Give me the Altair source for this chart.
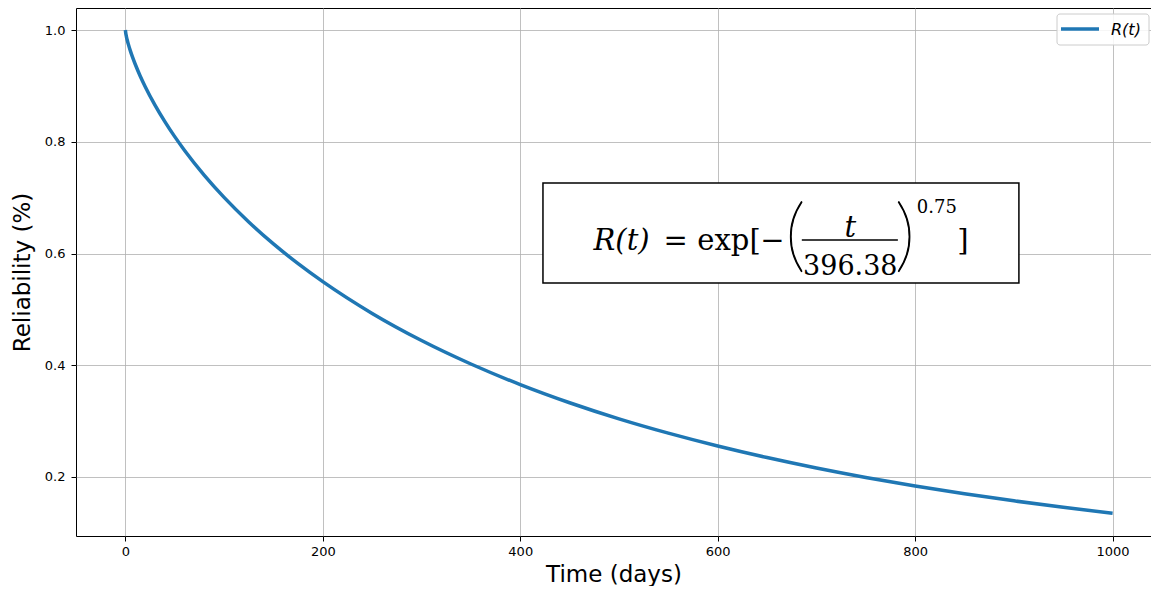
import altair as alt
import pandas as pd

# ---- data ----
t_days = [0, 0.5, 1, 2, 3, 5, 7, 10, 15, 20, 30, 40, 50, 60, 80, 100, 125, 150,
          175, 200, 250, 300, 350, 400, 450, 500, 550, 600, 650, 700, 750, 800,
          850, 900, 950, 1000]
reliability = [1.0, 0.9933, 0.9888, 0.9812, 0.9747, 0.9631, 0.9527, 0.9387,
               0.9178, 0.8990, 0.8656, 0.8361, 0.8092, 0.7845, 0.7400, 0.7005,
               0.6565, 0.6172, 0.5818, 0.5496, 0.4927, 0.4442, 0.4022, 0.3654,
               0.3329, 0.3041, 0.2785, 0.2555, 0.2348, 0.2161, 0.1992, 0.1839,
               0.1700, 0.1573, 0.1457, 0.1351]
x_ticks = [0, 200, 400, 600, 800, 1000]
y_ticks = [0.2, 0.4, 0.6, 0.8, 1.0]
series_name = "R(t)"

curve = pd.DataFrame({"t": t_days, "R": reliability})

x_scale = alt.Scale(domain=[-50, 1038.9], nice=False, zero=False)
y_scale = alt.Scale(domain=[0.0944, 1.0394], nice=False, zero=False)

line = alt.Chart(curve).mark_line(
    color="#1f77b4", strokeWidth=3.5, interpolate="monotone", strokeCap="butt"
).encode(
    x=alt.X("t:Q", scale=x_scale,
            axis=alt.Axis(values=x_ticks, format="d", title="Time (days)",
                          labelPadding=4, titlePadding=5)),
    y=alt.Y("R:Q", scale=y_scale,
            axis=alt.Axis(values=y_ticks, format=".1f", title="Reliability (%)",
                          labelPadding=6, titlePadding=10)),
)

# ---- equation annotation (data coordinates) ----
box = alt.Chart(pd.DataFrame({"t": [423.0], "t2": [905.1], "R": [0.7262], "R2": [0.5472]})).mark_rect(
    fill="white", stroke="black", strokeWidth=1.5
).encode(x="t:Q", x2="t2:Q", y="R:Q", y2="R2:Q")

serif = "DejaVu Serif"
eq_italic = pd.DataFrame({
    "t": [502.6, 734.3],
    "R": [0.6063, 0.6295],
    "txt": ["R(t)", "t"],
})
eq_main = pd.DataFrame({
    "t": [557.5, 611.5, 655.5, 848.3],
    "R": [0.6063, 0.6063, 0.6063, 0.6063],
    "txt": ["=", "exp[", "\u2212", "]"],
})
eq_den = pd.DataFrame({"t": [734.3], "R": [0.5615], "txt": ["396.38"]})
eq_parens = pd.DataFrame({
    "t": [678.6, 789.8],
    "R": [0.5848, 0.5848],
    "txt": ["(", ")"],
})
eq_sup = pd.DataFrame({"t": [822.0], "R": [0.6725], "txt": ["0.75"]})

t_italic = alt.Chart(eq_italic).mark_text(
    font=serif, fontSize=29, fontStyle="italic", align="center", baseline="alphabetic", color="black"
).encode(x="t:Q", y="R:Q", text="txt:N")
t_main = alt.Chart(eq_main).mark_text(
    font=serif, fontSize=29, align="center", baseline="alphabetic", color="black"
).encode(x="t:Q", y="R:Q", text="txt:N")
t_den = alt.Chart(eq_den).mark_text(
    font=serif, fontSize=27, align="center", baseline="alphabetic", color="black"
).encode(x="t:Q", y="R:Q", text="txt:N")
t_parens = alt.Chart(eq_parens).mark_text(
    font="Lato", fontSize=80, fontWeight=200, align="center", baseline="alphabetic",
    color="black", stroke="black", strokeWidth=1
).encode(x="t:Q", y="R:Q", text="txt:N")
t_sup = alt.Chart(eq_sup).mark_text(
    font=serif, fontSize=18, align="center", baseline="alphabetic", color="black"
).encode(x="t:Q", y="R:Q", text="txt:N")

frac = alt.Chart(pd.DataFrame({"t": [685.2], "t2": [782.5], "R": [0.6242]})).mark_rule(
    color="black", strokeWidth=1.6
).encode(x="t:Q", x2="t2:Q", y="R:Q")

# ---- legend (drawn as a matplotlib-style box) ----
one = pd.DataFrame({"k": [0]})
leg_box = alt.Chart(one).mark_rect(
    fill="white", fillOpacity=0.85, stroke="#cccccc", strokeWidth=1, cornerRadius=3
).encode(x=alt.value(981), x2=alt.value(1073), y=alt.value(6), y2=alt.value(37))
leg_line = alt.Chart(one).mark_rule(color="#1f77b4", strokeWidth=3.5).encode(
    x=alt.value(985), x2=alt.value(1023), y=alt.value(21))
leg_text = alt.Chart(pd.DataFrame({"txt": [series_name]})).mark_text(
    font="DejaVu Sans", fontSize=16, fontStyle="italic", align="left", baseline="alphabetic", color="black"
).encode(x=alt.value(1035), y=alt.value(27), text="txt:N")

chart = alt.layer(
    line, box, t_italic, t_main, t_den, t_parens, t_sup, frac, leg_box, leg_line, leg_text
).properties(
    width=1075, height=528,
    autosize=alt.AutoSizeParams(type="none"),
    padding={"left": 68, "top": 0, "right": 0, "bottom": 50},
).configure_view(
    stroke="black", strokeWidth=1
).configure_axis(
    domain=False, grid=True, gridColor="#b0b0b0", gridWidth=0.8,
    tickColor="black", tickSize=5, tickWidth=1,
    labelFont="DejaVu Sans", labelFontSize=13, labelColor="black",
    titleFont="DejaVu Sans", titleFontSize=23, titleFontWeight="normal", titleColor="black",
)

chart.save("out.html", embed_options={"renderer": "svg", "actions": False})
